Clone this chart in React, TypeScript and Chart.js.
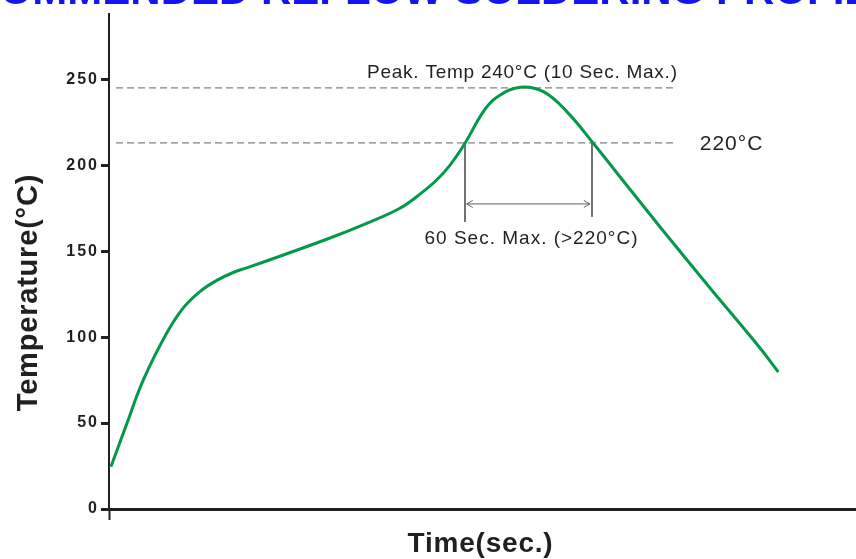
import React, { useEffect, useRef } from "react";
import { Chart, registerables } from "chart.js";

Chart.register(...registerables);

// ---- data ----
const curveTime = [0.9, 8.0, 16.1, 27.0, 34.8, 42.6, 50.5, 58.2, 64.5, 81.7, 105.1, 120.7, 136.3, 145.7, 153.5, 159.8, 166.8, 175.4, 181.7, 192.6, 203.5, 214.5, 226.9, 238.0, 258.2, 281.6, 305.0, 313.6];
const curveTemp = [24.6, 48.5, 75.1, 102.2, 117.0, 126.5, 133.0, 137.6, 140.3, 147.8, 158.4, 166.2, 175.0, 183.2, 191.4, 200.1, 212.8, 231.2, 239.5, 245.4, 242.8, 231.2, 212.8, 195.5, 164.1, 128.6, 93.7, 79.7];

const refLineTemps = [245, 213];
const refLineTimes = [3.3, 266];
const windowTimes = [166.8, 226.3];
const windowBottomTemps = [167, 170];
const arrowTimes = [167.6, 225.3];
const arrowTemp = 177.5;

const yTicks = [0, 50, 100, 150, 200, 250];
const xRange = [0, 350];
const yRange = [0, 288];

const titleText = "RECOMMENDED REFLOW SOLDERING PROFILE";
const yTitle = "Temperature(°C)";
const xTitle = "Time(sec.)";
const peakLabel = "Peak. Temp 240°C (10 Sec. Max.)";
const liquidusLabel = "220°C";
const windowLabel = "60 Sec. Max. (>220°C)";

const FONT = '"Liberation Sans", Arial, Helvetica, sans-serif';
const DARK = "#231f20";
const GREY = "#5f6062";
const GREEN = "#04984a";

const textPlugin = {
  id: "texts",
  beforeDraw(chart: any) {
    chart.ctx.letterSpacing = "2px";
  },
  afterDraw(chart: any) {
    const ctx = chart.ctx as CanvasRenderingContext2D;
    const xs = chart.scales.x;
    const ys = chart.scales.y;
    ctx.save();

    // title (clipped at top)
    (ctx as any).letterSpacing = "0px";
    ctx.font = `bold 42px ${FONT}`;
    ctx.fillStyle = "#1414f0";
    ctx.textAlign = "left";
    ctx.textBaseline = "alphabetic";
    ctx.fillText(titleText, -89, 3.5);

    ctx.fillStyle = DARK;
    // y axis title
    (ctx as any).letterSpacing = "0.8px";
    ctx.font = `bold 29px ${FONT}`;
    ctx.save();
    ctx.translate(37, 292.5);
    ctx.rotate(-Math.PI / 2);
    ctx.textAlign = "center";
    ctx.fillText(yTitle, 0, 0);
    ctx.restore();

    // x axis title
    ctx.font = `bold 28px ${FONT}`;
    ctx.textAlign = "center";
    ctx.fillText(xTitle, (xs.left + xs.right) / 2 - 2, 552);

    // annotations
    const xEnd = xs.getPixelForValue(refLineTimes[1]);
    (ctx as any).letterSpacing = "0.75px";
    ctx.font = `19px ${FONT}`;
    ctx.textAlign = "right";
    ctx.fillText(peakLabel, xEnd + 1, ys.getPixelForValue(refLineTemps[0]) - 9.5);

    (ctx as any).letterSpacing = "1px";
    ctx.font = `21px ${FONT}`;
    ctx.textAlign = "left";
    ctx.fillText(liquidusLabel, xEnd + 23, ys.getPixelForValue(refLineTemps[1]) + 7.5);

    ctx.font = `19px ${FONT}`;
    ctx.textAlign = "center";
    const xl = xs.getPixelForValue(windowTimes[0]);
    const xr = xs.getPixelForValue(windowTimes[1]);
    const ay = ys.getPixelForValue(arrowTemp);
    ctx.fillText(windowLabel, (xl + xr) / 2 + 3, ay + 40);

    // arrow heads
    const a0 = xs.getPixelForValue(arrowTimes[0]);
    const a1 = xs.getPixelForValue(arrowTimes[1]);
    ctx.strokeStyle = GREY;
    ctx.lineWidth = 1;
    ctx.beginPath();
    ctx.moveTo(a0 + 6, ay - 3.5);
    ctx.lineTo(a0, ay);
    ctx.lineTo(a0 + 6, ay + 3.5);
    ctx.moveTo(a1 - 6, ay - 3.5);
    ctx.lineTo(a1, ay);
    ctx.lineTo(a1 - 6, ay + 3.5);
    ctx.stroke();
    ctx.restore();
    (ctx as any).letterSpacing = "0px";
  },
};

export default function App() {
  const ref = useRef<HTMLCanvasElement>(null);
  useEffect(() => {
    const curve = curveTime.map((t, i) => ({ x: t, y: curveTemp[i] }));
    const thin = { pointRadius: 0, borderWidth: 1, borderColor: GREY, fill: false, tension: 0 };
    const chart = new Chart(ref.current!, {
      type: "line",
      data: {
        datasets: [
          {
            data: curve,
            borderColor: GREEN,
            borderWidth: 3,
            pointRadius: 0,
            fill: false,
            tension: 0.4,
          } as any,
          ...refLineTemps.map((v) => ({
            ...thin,
            borderDash: [7, 4],
            data: refLineTimes.map((t) => ({ x: t, y: v })),
          })),
          ...windowTimes.map((t, i) => ({
            ...thin,
            data: [
              { x: t, y: refLineTemps[1] },
              { x: t, y: windowBottomTemps[i] },
            ],
          })),
          {
            ...thin,
            data: arrowTimes.map((t) => ({ x: t, y: arrowTemp })),
          },
        ],
      },
      options: {
        responsive: false,
        animation: false,
        devicePixelRatio: 1,
        layout: { padding: { top: 14, left: 0, right: 0, bottom: 0 } },
        plugins: { legend: { display: false }, tooltip: { enabled: false }, title: { display: false } },
        scales: {
          x: {
            type: "linear",
            min: xRange[0],
            max: xRange[1],
            afterBuildTicks: (s: any) => {
              s.ticks = [{ value: xRange[0] }];
            },
            afterFit: (s: any) => {
              s.height = 50;
            },
            ticks: { display: false },
            grid: { drawOnChartArea: false, tickLength: 11, tickWidth: 2, tickColor: DARK, color: DARK },
            border: { display: true, width: 3, color: DARK },
          },
          y: {
            type: "linear",
            min: yRange[0],
            max: yRange[1],
            afterBuildTicks: (s: any) => {
              s.ticks = yTicks.map((v) => ({ value: v }));
            },
            afterFit: (s: any) => {
              s.width = 109;
            },
            ticks: {
              includeBounds: false,
              padding: 2,
              color: DARK,
              font: { family: FONT, size: 16, weight: "bold" },
            },
            grid: { drawOnChartArea: false, tickLength: 8, tickWidth: 3, tickColor: DARK, color: DARK },
            border: { display: true, width: 2, color: DARK },
          },
        },
      } as any,
      plugins: [textPlugin],
    });
    return () => chart.destroy();
  }, []);
  return (
    <div style={{ position: "absolute", left: 0, top: 0, width: 856, height: 559, background: "#fff" }}>
      <canvas ref={ref} width={856} height={559} style={{ display: "block", width: 856, height: 559 }} />
    </div>
  );
}
